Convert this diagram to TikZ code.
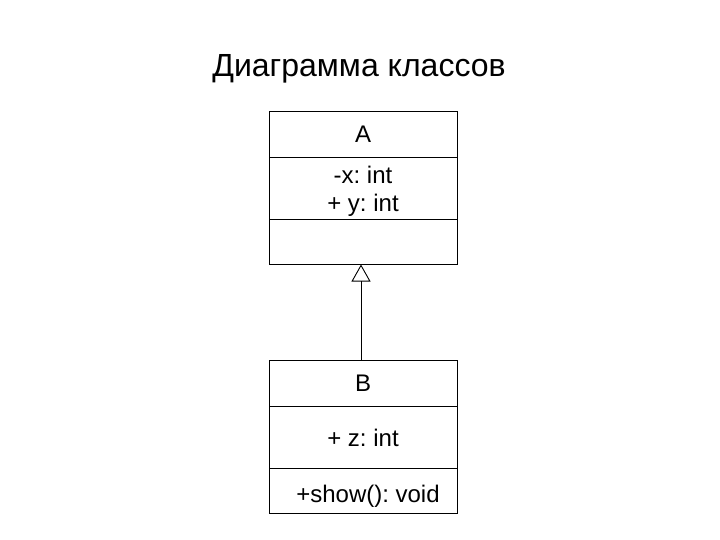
\documentclass[tikz,border=0pt]{standalone}
\usepackage{fontspec}
\setmainfont{Liberation Sans}
\usetikzlibrary{arrows.meta,positioning}
\frenchspacing

\begin{document}
\begin{tikzpicture}[
  x=1pt,y=-1pt,
  font=\fontsize{24}{28}\selectfont,
  part/.style={rectangle,draw,line width=0.9pt,minimum width=188pt,inner sep=0pt,outer sep=0pt,align=center},
  namepart/.style={part,minimum height=46pt},
  attrpart/.style={part,minimum height=62pt,text depth=0pt},
  opspart/.style={part,minimum height=45pt,text height=22pt,text depth=0pt},
  inh/.style={-{Triangle[open,length=17pt,width=19pt]},line width=0.9pt}
]
\useasboundingbox (0,0) rectangle (720,540);
% title
\node (title) at (359,69) {\fontsize{32}{36}\selectfont Диаграмма классов};
% class A (top)
\node[namepart] (Aname) at (363,134.5) {A};
\node[attrpart,below=0pt of Aname] (Aattr) {-x: int\\ + y: int};
\node[opspart,below=0pt of Aattr] (Aops) {};
% class B (bottom)
\node[namepart] (Bname) at (363,383.5) {B};
\node[attrpart,below=0pt of Bname] (Battr) {+ z: int};
\node[opspart,below=0pt of Battr] (Bops) {\hspace*{10pt}+show(): void};

\draw[inh] (Bname.north -| 361,0) -- (Aops.south -| 361,0);
\end{tikzpicture}
\end{document}
